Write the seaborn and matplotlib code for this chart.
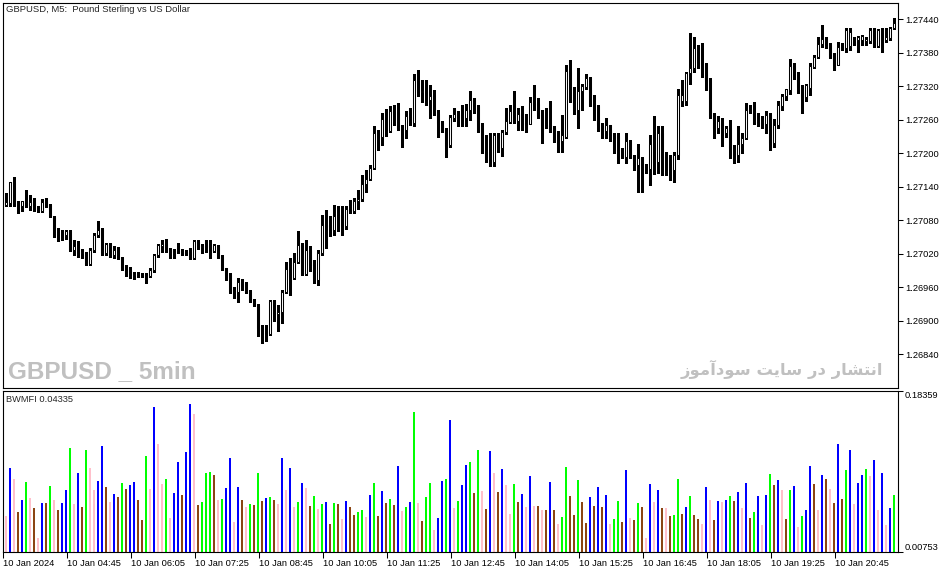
import matplotlib
matplotlib.use("Agg")
import matplotlib.pyplot as plt
import numpy as np
import pandas as pd
import seaborn as sns

# ---------------- data (GBPUSD M5, 10 Jan 2024, bar 1 = 03:30) ----------------
open_ = [1.27108, 1.27111, 1.27148, 1.27108, 1.27106, 1.27115, 1.27106, 1.27112, 1.27103, 1.27096,
         1.27112, 1.27107, 1.27086, 1.27055, 1.27056, 1.27054, 1.27061, 1.27027, 1.27032, 1.27022,
         1.27024, 1.27001, 1.27027, 1.27054, 1.27064, 1.27022, 1.27038, 1.27018, 1.27029, 1.27012,
         1.26995, 1.26991, 1.26982, 1.26983, 1.26984, 1.26983, 1.26980, 1.26991, 1.27017, 1.27034,
         1.27038, 1.27029, 1.27025, 1.27027, 1.27025, 1.27024, 1.27023, 1.27012, 1.27043, 1.27033,
         1.27036, 1.27037, 1.27025, 1.27034, 1.27015, 1.26994, 1.26982, 1.26955, 1.26951, 1.26969,
         1.26968, 1.26954, 1.26938, 1.26929, 1.26888, 1.26882, 1.26876, 1.26936, 1.26912, 1.26916,
         1.26952, 1.26993, 1.26977, 1.27005, 1.27036, 1.26983, 1.27027, 1.27002, 1.26973, 1.27021,
         1.27072, 1.27072, 1.27063, 1.27090, 1.27090, 1.27069, 1.27100, 1.27096, 1.27115, 1.27118,
         1.27145, 1.27154, 1.27173, 1.27236, 1.27229, 1.27261, 1.27240, 1.27276, 1.27272, 1.27243,
         1.27241, 1.27266, 1.27255, 1.27332, 1.27309, 1.27312, 1.27296, 1.27304, 1.27270, 1.27256,
         1.27243, 1.27215, 1.27264, 1.27270, 1.27264, 1.27264, 1.27278, 1.27296, 1.27284, 1.27241,
         1.27203, 1.27203, 1.27185, 1.27233, 1.27210, 1.27238, 1.27256, 1.27276, 1.27257, 1.27272,
         1.27255, 1.27252, 1.27291, 1.27289, 1.27268, 1.27250, 1.27250, 1.27245, 1.27222, 1.27222,
         1.27230, 1.27347, 1.27295, 1.27278, 1.27312, 1.27319, 1.27334, 1.27288, 1.27285, 1.27250,
         1.27240, 1.27250, 1.27233, 1.27231, 1.27204, 1.27194, 1.27222, 1.27196, 1.27179, 1.27191,
         1.27172, 1.27172, 1.27217, 1.27185, 1.27236, 1.27194, 1.27176, 1.27170, 1.27197, 1.27293,
         1.27293, 1.27343, 1.27352, 1.27388, 1.27362, 1.27360, 1.27331, 1.27268, 1.27245, 1.27255,
         1.27237, 1.27245, 1.27208, 1.27197, 1.27216, 1.27227, 1.27279, 1.27276, 1.27256, 1.27255,
         1.27252, 1.27269, 1.27218, 1.27250, 1.27285, 1.27302, 1.27314, 1.27356, 1.27336, 1.27319,
         1.27300, 1.27317, 1.27355, 1.27372, 1.27396, 1.27405, 1.27394, 1.27374, 1.27358, 1.27390,
         1.27389, 1.27392, 1.27402, 1.27403, 1.27403, 1.27402, 1.27402, 1.27420, 1.27392, 1.27422,
         1.27403, 1.27406, 1.27424]
high_ = [1.27129, 1.27149, 1.27158, 1.27114, 1.27115, 1.27134, 1.27125, 1.27120, 1.27106, 1.27118,
         1.27120, 1.27109, 1.27087, 1.27066, 1.27063, 1.27063, 1.27063, 1.27044, 1.27043, 1.27029,
         1.27024, 1.27030, 1.27057, 1.27078, 1.27066, 1.27040, 1.27039, 1.27034, 1.27033, 1.27014,
         1.27000, 1.26997, 1.26988, 1.26988, 1.26986, 1.26985, 1.26994, 1.27019, 1.27037, 1.27045,
         1.27047, 1.27031, 1.27029, 1.27039, 1.27029, 1.27027, 1.27030, 1.27045, 1.27045, 1.27037,
         1.27045, 1.27045, 1.27037, 1.27036, 1.27018, 1.26995, 1.26985, 1.26961, 1.26976, 1.26975,
         1.26970, 1.26955, 1.26939, 1.26930, 1.26893, 1.26893, 1.26938, 1.26938, 1.26929, 1.26955,
         1.27006, 1.27012, 1.27021, 1.27060, 1.27039, 1.27045, 1.27034, 1.27009, 1.27027, 1.27090,
         1.27099, 1.27087, 1.27108, 1.27106, 1.27105, 1.27105, 1.27117, 1.27120, 1.27134, 1.27161,
         1.27170, 1.27179, 1.27248, 1.27242, 1.27272, 1.27279, 1.27284, 1.27287, 1.27290, 1.27251,
         1.27275, 1.27281, 1.27342, 1.27349, 1.27332, 1.27331, 1.27322, 1.27313, 1.27278, 1.27257,
         1.27245, 1.27269, 1.27281, 1.27275, 1.27287, 1.27288, 1.27312, 1.27299, 1.27287, 1.27254,
         1.27233, 1.27236, 1.27236, 1.27236, 1.27242, 1.27282, 1.27287, 1.27312, 1.27281, 1.27284,
         1.27270, 1.27300, 1.27322, 1.27299, 1.27278, 1.27282, 1.27294, 1.27248, 1.27240, 1.27269,
         1.27359, 1.27367, 1.27319, 1.27352, 1.27324, 1.27342, 1.27337, 1.27304, 1.27287, 1.27254,
         1.27264, 1.27250, 1.27236, 1.27236, 1.27209, 1.27236, 1.27224, 1.27197, 1.27216, 1.27194,
         1.27180, 1.27233, 1.27267, 1.27248, 1.27248, 1.27203, 1.27197, 1.27203, 1.27316, 1.27331,
         1.27346, 1.27415, 1.27409, 1.27394, 1.27398, 1.27361, 1.27334, 1.27272, 1.27266, 1.27263,
         1.27249, 1.27260, 1.27215, 1.27248, 1.27236, 1.27290, 1.27287, 1.27292, 1.27272, 1.27266,
         1.27275, 1.27272, 1.27261, 1.27293, 1.27306, 1.27316, 1.27368, 1.27361, 1.27346, 1.27322,
         1.27325, 1.27361, 1.27376, 1.27409, 1.27430, 1.27408, 1.27397, 1.27379, 1.27400, 1.27397,
         1.27424, 1.27424, 1.27409, 1.27410, 1.27412, 1.27409, 1.27424, 1.27424, 1.27422, 1.27424,
         1.27424, 1.27427, 1.27442]
low_ = [1.27105, 1.27105, 1.27105, 1.27093, 1.27096, 1.27103, 1.27099, 1.27096, 1.27095, 1.27095,
        1.27103, 1.27086, 1.27051, 1.27043, 1.27045, 1.27046, 1.27025, 1.27018, 1.27014, 1.27012,
        1.27000, 1.27000, 1.27024, 1.27051, 1.27018, 1.27018, 1.27015, 1.27012, 1.27010, 1.26991,
        1.26980, 1.26976, 1.26975, 1.26978, 1.26979, 1.26968, 1.26978, 1.26988, 1.27015, 1.27024,
        1.27024, 1.27013, 1.27012, 1.27021, 1.27018, 1.27017, 1.27011, 1.27011, 1.27029, 1.27021,
        1.27024, 1.27012, 1.27023, 1.27012, 1.26991, 1.26973, 1.26950, 1.26941, 1.26933, 1.26955,
        1.26950, 1.26933, 1.26926, 1.26872, 1.26860, 1.26863, 1.26875, 1.26900, 1.26881, 1.26896,
        1.26950, 1.26947, 1.26975, 1.27003, 1.26982, 1.26982, 1.26990, 1.26968, 1.26964, 1.27018,
        1.27030, 1.27052, 1.27054, 1.27060, 1.27054, 1.27064, 1.27093, 1.27093, 1.27100, 1.27114,
        1.27130, 1.27152, 1.27171, 1.27206, 1.27215, 1.27231, 1.27239, 1.27251, 1.27242, 1.27212,
        1.27227, 1.27251, 1.27249, 1.27303, 1.27292, 1.27287, 1.27263, 1.27269, 1.27230, 1.27239,
        1.27193, 1.27212, 1.27258, 1.27248, 1.27248, 1.27248, 1.27260, 1.27272, 1.27238, 1.27200,
        1.27185, 1.27178, 1.27178, 1.27203, 1.27196, 1.27234, 1.27254, 1.27254, 1.27242, 1.27242,
        1.27239, 1.27252, 1.27278, 1.27264, 1.27218, 1.27246, 1.27238, 1.27220, 1.27202, 1.27203,
        1.27228, 1.27291, 1.27270, 1.27246, 1.27278, 1.27316, 1.27285, 1.27260, 1.27240, 1.27228,
        1.27227, 1.27222, 1.27200, 1.27182, 1.27191, 1.27182, 1.27191, 1.27170, 1.27131, 1.27131,
        1.27165, 1.27143, 1.27163, 1.27164, 1.27161, 1.27161, 1.27152, 1.27149, 1.27189, 1.27285,
        1.27287, 1.27325, 1.27346, 1.27352, 1.27337, 1.27313, 1.27263, 1.27227, 1.27237, 1.27213,
        1.27230, 1.27191, 1.27182, 1.27185, 1.27200, 1.27225, 1.27272, 1.27252, 1.27248, 1.27245,
        1.27237, 1.27206, 1.27212, 1.27245, 1.27278, 1.27296, 1.27306, 1.27333, 1.27308, 1.27272,
        1.27294, 1.27304, 1.27352, 1.27370, 1.27391, 1.27388, 1.27370, 1.27349, 1.27358, 1.27385,
        1.27382, 1.27385, 1.27394, 1.27382, 1.27394, 1.27394, 1.27397, 1.27390, 1.27391, 1.27382,
        1.27400, 1.27403, 1.27422]
close_ = [1.27112, 1.27148, 1.27108, 1.27107, 1.27114, 1.27106, 1.27112, 1.27103, 1.27099, 1.27112,
          1.27105, 1.27087, 1.27054, 1.27056, 1.27055, 1.27061, 1.27027, 1.27034, 1.27021, 1.27023,
          1.27002, 1.27027, 1.27054, 1.27062, 1.27021, 1.27038, 1.27018, 1.27027, 1.27012, 1.26994,
          1.26988, 1.26982, 1.26983, 1.26984, 1.26983, 1.26979, 1.26991, 1.27018, 1.27035, 1.27038,
          1.27029, 1.27023, 1.27023, 1.27024, 1.27021, 1.27019, 1.27012, 1.27043, 1.27033, 1.27034,
          1.27033, 1.27024, 1.27036, 1.27013, 1.26992, 1.26982, 1.26954, 1.26951, 1.26969, 1.26963,
          1.26952, 1.26935, 1.26929, 1.26887, 1.26881, 1.26876, 1.26936, 1.26912, 1.26916, 1.26952,
          1.26993, 1.26979, 1.27006, 1.27035, 1.26984, 1.27027, 1.27000, 1.26973, 1.27021, 1.27072,
          1.27069, 1.27063, 1.27087, 1.27087, 1.27069, 1.27100, 1.27096, 1.27114, 1.27118, 1.27145,
          1.27154, 1.27173, 1.27236, 1.27227, 1.27261, 1.27241, 1.27276, 1.27272, 1.27245, 1.27242,
          1.27266, 1.27255, 1.27332, 1.27309, 1.27311, 1.27303, 1.27303, 1.27272, 1.27255, 1.27242,
          1.27213, 1.27265, 1.27270, 1.27263, 1.27263, 1.27278, 1.27296, 1.27284, 1.27240, 1.27202,
          1.27201, 1.27185, 1.27233, 1.27210, 1.27239, 1.27257, 1.27276, 1.27256, 1.27270, 1.27250,
          1.27252, 1.27291, 1.27287, 1.27267, 1.27250, 1.27249, 1.27244, 1.27222, 1.27221, 1.27233,
          1.27347, 1.27293, 1.27278, 1.27312, 1.27321, 1.27334, 1.27287, 1.27284, 1.27250, 1.27240,
          1.27250, 1.27233, 1.27228, 1.27204, 1.27194, 1.27222, 1.27194, 1.27179, 1.27191, 1.27172,
          1.27170, 1.27217, 1.27183, 1.27236, 1.27194, 1.27176, 1.27170, 1.27197, 1.27304, 1.27304,
          1.27343, 1.27352, 1.27388, 1.27361, 1.27360, 1.27330, 1.27266, 1.27245, 1.27257, 1.27236,
          1.27245, 1.27207, 1.27197, 1.27217, 1.27227, 1.27278, 1.27275, 1.27255, 1.27254, 1.27252,
          1.27269, 1.27218, 1.27251, 1.27287, 1.27303, 1.27315, 1.27356, 1.27336, 1.27318, 1.27300,
          1.27322, 1.27356, 1.27372, 1.27396, 1.27404, 1.27394, 1.27373, 1.27358, 1.27390, 1.27388,
          1.27420, 1.27418, 1.27396, 1.27408, 1.27410, 1.27404, 1.27420, 1.27392, 1.27420, 1.27403,
          1.27408, 1.27424, 1.27434]

# Bill Williams Market Facilitation Index
mfi = [0.0471, 0.0988, 0.0867, 0.0504, 0.0636, 0.0834, 0.0658, 0.0548, 0.0229, 0.0603,
       0.0603, 0.0790, 0.0636, 0.0526, 0.0603, 0.0746, 0.1208, 0.0592, 0.0933, 0.0559,
       0.1186, 0.0988, 0.0746, 0.0845, 0.1230, 0.0779, 0.0614, 0.0702, 0.0669, 0.0823,
       0.0757, 0.0801, 0.0834, 0.0636, 0.0427, 0.1120, 0.0757, 0.1659, 0.1252, 0.0812,
       0.0867, 0.0449, 0.0713, 0.1054, 0.0691, 0.1164, 0.1692, 0.1582, 0.0581, 0.0614,
       0.0933, 0.0944, 0.0911, 0.0636, 0.0647, 0.0768, 0.1098, 0.0405, 0.0779, 0.0636,
       0.0559, 0.0592, 0.0581, 0.0933, 0.0625, 0.0658, 0.0669, 0.0636, 0.0592, 0.1098,
       0.0746, 0.0988, 0.0559, 0.0614, 0.0823, 0.0768, 0.0570, 0.0680, 0.0537, 0.0592,
       0.0614, 0.0383, 0.0603, 0.0592, 0.0438, 0.0625, 0.0559, 0.0482, 0.0504, 0.0526,
       0.0460, 0.0691, 0.0823, 0.0471, 0.0735, 0.0603, 0.0647, 0.0581, 0.1010, 0.0515,
       0.0559, 0.0614, 0.1604, 0.0603, 0.0416, 0.0669, 0.0823, 0.0317, 0.0449, 0.0845,
       0.0867, 0.1516, 0.0548, 0.0625, 0.0801, 0.1021, 0.1054, 0.0713, 0.1186, 0.0735,
       0.0537, 0.1175, 0.0933, 0.0724, 0.0977, 0.0801, 0.0493, 0.0812, 0.0614, 0.0702,
       0.0559, 0.0900, 0.0570, 0.0570, 0.0526, 0.0526, 0.0834, 0.0526, 0.0383, 0.0460,
       0.0999, 0.0680, 0.0482, 0.0856, 0.0614, 0.0394, 0.0669, 0.0570, 0.0779, 0.0559,
       0.0691, 0.0383, 0.0438, 0.0625, 0.0405, 0.0966, 0.0449, 0.0427, 0.0603, 0.0559,
       0.0229, 0.0812, 0.0614, 0.0746, 0.0548, 0.0548, 0.0471, 0.0482, 0.0867, 0.0493,
       0.0559, 0.0680, 0.0482, 0.0438, 0.0383, 0.0779, 0.0636, 0.0427, 0.0625, 0.0614,
       0.0636, 0.0680, 0.0625, 0.0724, 0.0548, 0.0823, 0.0449, 0.0504, 0.0680, 0.0372,
       0.0691, 0.0922, 0.0801, 0.0856, 0.0746, 0.0438, 0.0746, 0.0790, 0.0350, 0.0471,
       0.0526, 0.1010, 0.0812, 0.0526, 0.0911, 0.0867, 0.0757, 0.0603, 0.1252, 0.0647,
       0.0966, 0.1186, 0.0592, 0.0823, 0.0911, 0.0977, 0.0900, 0.1076, 0.0526, 0.0933,
       0.0372, 0.0548, 0.0691]
# b = MFI up / vol up, g = MFI up / vol down, r = MFI down / vol down, p = MFI down / vol up
mfi_kind = ("pbprbgprpb" "rgprbbgpbr" "gppbbrpbrg" "rbbrrgpbpp" "gpbbrbbprg"
            "ggrpgbbpbr" "pgrgrbgrpb" "pbpgbprgpg" "brgrpbrrgg" "pbgrbrgrbp"
            "gbgprggpbb" "gbpgbbgrgp" "rbprbppgrb" "pbprprbrpg" "grrgrrbrbr"
            "bpggrbprgr" "pbpbrprggr" "bgrrpbprbp" "bgrbpbrgbp" "bgrbprgbpg"
            "bbrpbrprbr" "gbpbbgpbpb" "pbg")
kind_colors = {"b": "#0000ff", "g": "#00ff00", "r": "#8b4513", "p": "#ffc0cb"}

price_ticks = [1.27440, 1.27380, 1.27320, 1.27260, 1.27200, 1.27140,
               1.27080, 1.27020, 1.26960, 1.26900, 1.26840]
mfi_range = [0.00753, 0.18359]
tick_times = ["03:25", "04:45", "06:05", "07:25", "08:45", "10:05", "11:25",
              "12:45", "14:05", "15:25", "16:45", "18:05", "19:25", "20:45"]
first_time = "03:25"

sns.set_style("white")
plt.rcParams['font.family'] = ['Liberation Sans', 'DejaVu Sans']

W, H = 951, 572
fig = plt.figure(figsize=(W / 100, H / 100), dpi=100)


def fx(px):
    return px / W


def fy(py):
    return 1 - py / H


ax = fig.add_axes([fx(2.7), fy(388), fx(898.3) - fx(2.7), fy(2.7) - fy(388)])
axm = fig.add_axes([fx(2.7), fy(551.7), fx(898.3) - fx(2.7), fy(390.7) - fy(551.7)])

# -------- candles --------
o, h, l, c = (np.array(v) for v in (open_, high_, low_, close_))
idx = np.arange(1, len(c) + 1)
up = c >= o
ax.vlines(idx, l, h, color="black", lw=0.8, zorder=2, antialiased=False)
ax.bar(idx, np.abs(c - o), bottom=np.minimum(o, c), width=0.5,
       color=np.where(up, "white", "black"), edgecolor="black",
       linewidth=0.75, zorder=3)

x0, x1 = 0.25, 224.15
ax.set_xlim(x0, x1)
ax.set_ylim(1.267797, 1.274697)
ax.set_xticks([])
ax.yaxis.tick_right()
ax.set_yticks(price_ticks)
ax.set_yticklabels([f"{t:.5f}" for t in price_ticks])
ax.tick_params(axis="y", direction="out", length=3.5, width=0.75, pad=1.2,
               labelsize=6.7, colors="black")

# -------- BW MFI histogram --------
df = pd.DataFrame({"bar": idx, "mfi": mfi, "kind": list(mfi_kind)})
sns.barplot(data=df, x="bar", y="mfi", hue="kind", palette=kind_colors,
            native_scale=True, width=0.5, saturation=1, dodge=False,
            legend=False, ax=axm, linewidth=0, edgecolor="none")
axm.set_xlim(x0, x1)
axm.set_ylim(*mfi_range)
axm.set_xlabel("")
axm.set_ylabel("")
axm.yaxis.tick_right()
axm.set_yticks(mfi_range)
axm.set_yticklabels([f"{v:.5f}" for v in mfi_range])
ylab = axm.get_yticklabels()
ylab[0].set_va("bottom")
ylab[1].set_va("top")
axm.tick_params(axis="y", direction="out", length=3.5, width=0.75, pad=1.2,
                labelsize=6.7, colors="black")


def bar_of(t):
    hh, mm = map(int, t.split(":"))
    h0, m0 = map(int, first_time.split(":"))
    return ((hh * 60 + mm) - (h0 * 60 + m0)) / 5


tick_pos = [bar_of(t) + 0.25 for t in tick_times]
tick_lbl = ["10 Jan 2024"] + [f"10 Jan {t}" for t in tick_times[1:]]
axm.set_xticks(tick_pos)
axm.set_xticklabels(tick_lbl)
for t in axm.get_xticklabels():
    t.set_ha("left")
axm.tick_params(axis="x", direction="out", length=4, width=0.75, pad=1,
                labelsize=6.7, colors="black", bottom=True)

for a in (ax, axm):
    for s in a.spines.values():
        s.set_visible(True)
        s.set_color("black")
        s.set_linewidth(0.8)

# -------- texts --------
fig.text(fx(6), fy(9), "GBPUSD, M5:  Pound Sterling vs US Dollar", fontsize=6.8,
         va="center", ha="left")
fig.text(fx(6), fy(400), "BWMFI 0.04335", fontsize=6.7, va="center", ha="left")
fig.text(fx(8), fy(378), "GBPUSD _ 5min", fontsize=17.5, weight="bold",
         family=["Liberation Sans", "DejaVu Sans"], color="#c0c0c0",
         va="baseline", ha="left")
# "انتشار در سایت سودآموز" written in shaped presentation forms, visual order
persian = ("\uFEAF\uFEEE\uFEE3\uFE81\uFEA9\uFEEE\uFEB3 \uFE96\uFEF3\uFE8E\uFEB3 "
           "\uFEAD\uFEA9 \uFEAD\uFE8E\uFEB8\uFE98\uFEE7\uFE8D")
fig.text(fx(883), fy(369), persian, fontsize=11.8, weight="bold",
         family=["DejaVu Sans"], color="#c0c0c0", va="center", ha="right")

fig.savefig("out.png", dpi=100)
